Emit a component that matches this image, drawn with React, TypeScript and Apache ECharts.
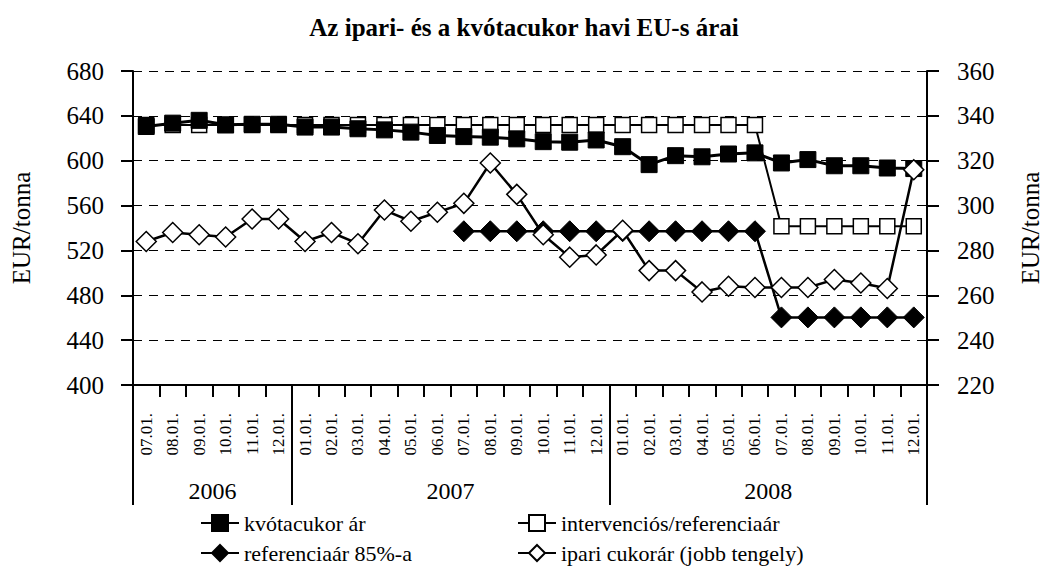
import React, { useEffect, useRef } from "react";
import * as echarts from "echarts";

const FONT = "Liberation Serif";

const titleText = "Az ipari- és a kvótacukor havi EU-s árai";
const axisName = "EUR/tonna";

const years = ["2006", "2007", "2008"];
const monthsPerYear = [6, 12, 12];

const months = [
  "07.01.", "08.01.", "09.01.", "10.01.", "11.01.", "12.01.",
  "01.01.", "02.01.", "03.01.", "04.01.", "05.01.", "06.01.",
  "07.01.", "08.01.", "09.01.", "10.01.", "11.01.", "12.01.",
  "01.01.", "02.01.", "03.01.", "04.01.", "05.01.", "06.01.",
  "07.01.", "08.01.", "09.01.", "10.01.", "11.01.", "12.01.",
];

const seriesNames = [
  "kvótacukor ár",
  "intervenciós/referenciaár",
  "referenciaár 85%-a",
  "ipari cukorár (jobb tengely)",
];

const kvota = [
  630.5, 633.5, 636, 632, 632.5, 632.5,
  630, 630, 628.5, 627.5, 625.5, 622.5,
  621.5, 621, 619.5, 617, 616.5, 618.5,
  612.5, 596.5, 604.5, 603.5, 606, 607,
  598, 601, 595.5, 595.5, 593.5, 593,
];

const intervencios = [
  631.9, 631.9, 631.9, 631.9, 631.9, 631.9,
  631.9, 631.9, 631.9, 631.9, 631.9, 631.9,
  631.9, 631.9, 631.9, 631.9, 631.9, 631.9,
  631.9, 631.9, 631.9, 631.9, 631.9, 631.9,
  541.5, 541.5, 541.5, 541.5, 541.5, 541.5,
];

const referencia85 = [
  null, null, null, null, null, null,
  null, null, null, null, null, null,
  537.1, 537.1, 537.1, 537.1, 537.1, 537.1,
  537.1, 537.1, 537.1, 537.1, 537.1, 537.1,
  460.3, 460.3, 460.3, 460.3, 460.3, 460.3,
];

const ipari = [
  284, 288, 287, 286, 294, 294,
  284, 288, 283, 298, 293, 297,
  301, 319, 305, 287, 277, 278,
  289, 271, 271, 261.5, 264, 263.5,
  263.5, 263.5, 267, 265.5, 263, 316,
];

export default function App() {
  const ref = useRef<HTMLDivElement>(null);

  useEffect(() => {
    if (!ref.current) return;
    const chart = echarts.init(ref.current, null, { renderer: "svg" });

    const boundaries: number[] = [0];
    const centers: number[] = [];
    monthsPerYear.forEach((n) => {
      const start = boundaries[boundaries.length - 1];
      centers.push(start + n / 2);
      boundaries.push(start + n);
    });
    const total = boundaries[boundaries.length - 1];

    const black = "#000";
    const axisLineStyle = { color: black, width: 2 };
    const legendCommon = {
      orient: "vertical",
      top: 512,
      padding: 0,
      itemWidth: 38,
      itemHeight: 20,
      itemGap: 8,
      textStyle: { fontFamily: FONT, fontSize: 22, color: black },
    };

    const option: any = {
      animation: false,
      backgroundColor: "#fff",
      textStyle: { fontFamily: FONT, color: black },
      title: {
        text: titleText,
        left: "center",
        top: 10,
        textStyle: { fontFamily: FONT, fontWeight: "bold", fontSize: 25, color: black },
      },
      grid: {
        left: 133,
        right: 121,
        top: 71,
        bottom: 182,
        containLabel: false,
        outerBoundsMode: "none",
      },
      legend: [
        { ...legendCommon, data: [seriesNames[0], seriesNames[2]], left: 200 },
        { ...legendCommon, data: [seriesNames[1], seriesNames[3]], left: 517 },
      ],
      xAxis: [
        {
          type: "category",
          data: months,
          boundaryGap: true,
          axisLine: { lineStyle: axisLineStyle },
          axisTick: { show: true, interval: 0, length: 12, lineStyle: axisLineStyle },
          axisLabel: {
            interval: 0,
            rotate: 90,
            margin: 28,
            fontSize: 17,
            fontFamily: FONT,
            color: black,
          },
          splitLine: { show: false },
        },
        {
          type: "value",
          min: 0,
          max: total,
          position: "bottom",
          axisLine: { show: false },
          splitLine: { show: false },
          axisTick: {
            show: true,
            customValues: boundaries,
            length: 120,
            lineStyle: axisLineStyle,
          },
          axisLabel: {
            customValues: centers,
            formatter: (v: number) => {
              const idx = centers.findIndex((c) => Math.abs(c - v) < 1e-6);
              return idx >= 0 ? years[idx] : "";
            },
            margin: 94,
            fontSize: 24,
            fontFamily: FONT,
            color: black,
          },
        },
      ],
      yAxis: [
        {
          type: "value",
          min: 400,
          max: 680,
          interval: 40,
          position: "left",
          name: axisName,
          nameLocation: "middle",
          nameGap: 99,
          nameRotate: 90,
          nameTextStyle: { fontFamily: FONT, fontSize: 25, color: black },
          axisLine: { show: true, lineStyle: axisLineStyle },
          axisTick: { show: true, length: 12, lineStyle: axisLineStyle },
          axisLabel: { margin: 29, fontSize: 25, fontFamily: FONT, color: black },
          splitLine: { show: true, lineStyle: { type: [9, 7], color: black, width: 1 } },
        },
        {
          type: "value",
          min: 220,
          max: 360,
          interval: 20,
          position: "right",
          name: axisName,
          nameLocation: "middle",
          nameGap: 91,
          nameRotate: 90,
          nameTextStyle: { fontFamily: FONT, fontSize: 25, color: black },
          axisLine: { show: true, lineStyle: axisLineStyle },
          axisTick: { show: true, length: 12, lineStyle: axisLineStyle },
          axisLabel: { margin: 30, fontSize: 25, fontFamily: FONT, color: black },
          splitLine: { show: false },
        },
      ],
      series: [
        {
          name: seriesNames[1],
          type: "line",
          data: intervencios,
          yAxisIndex: 0,
          symbol: "rect",
          symbolSize: 15,
          showAllSymbol: true,
          lineStyle: { color: black, width: 2 },
          itemStyle: { color: "#fff", borderColor: black, borderWidth: 1.5 },
          z: 2,
        },
        {
          name: seriesNames[0],
          type: "line",
          data: kvota,
          yAxisIndex: 0,
          symbol: "rect",
          symbolSize: 16,
          showAllSymbol: true,
          lineStyle: { color: black, width: 3 },
          itemStyle: { color: black, borderColor: black, borderWidth: 1 },
          z: 3,
        },
        {
          name: seriesNames[2],
          type: "line",
          data: referencia85,
          yAxisIndex: 0,
          symbol: "diamond",
          symbolSize: 21,
          showAllSymbol: true,
          lineStyle: { color: black, width: 2.5 },
          itemStyle: { color: black, borderColor: black, borderWidth: 1 },
          z: 4,
        },
        {
          name: seriesNames[3],
          type: "line",
          data: ipari,
          yAxisIndex: 1,
          symbol: "diamond",
          symbolSize: 20,
          showAllSymbol: true,
          lineStyle: { color: black, width: 2.5 },
          itemStyle: { color: "#fff", borderColor: black, borderWidth: 1.5 },
          z: 5,
        },
      ],
    };

    chart.setOption(option);
    return () => chart.dispose();
  }, []);

  return (
    <div
      ref={ref}
      style={{ position: "fixed", left: 0, top: 0, width: 1048, height: 567, background: "#fff" }}
    />
  );
}
